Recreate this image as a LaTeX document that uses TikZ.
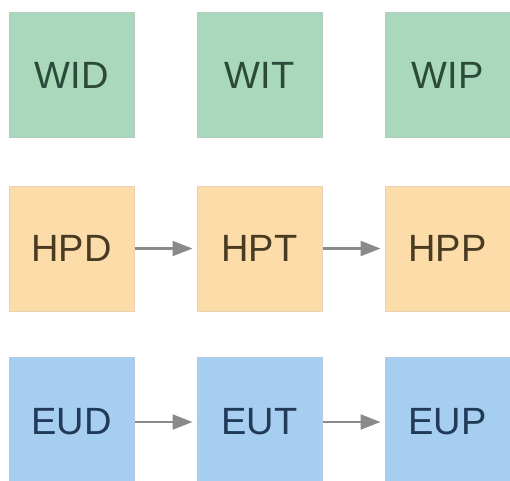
\documentclass[tikz,border=0pt]{standalone}
\usepackage{fontspec}
\setmainfont{Liberation Sans}
\usetikzlibrary{arrows.meta}
\definecolor{gfill}{HTML}{A9D8BD}
\definecolor{gline}{HTML}{B3CDBD}
\definecolor{gtext}{HTML}{2B4A39}
\definecolor{ofill}{HTML}{FCDCA9}
\definecolor{oline}{HTML}{E8D2B2}
\definecolor{otext}{HTML}{4A3A22}
\definecolor{bfill}{HTML}{A6CEF1}
\definecolor{bline}{HTML}{B5CCE0}
\definecolor{btext}{HTML}{203A58}
\definecolor{arr}{HTML}{8A8A8A}
\tikzset{
  box/.style={rectangle, minimum width=125pt, minimum height=125pt, inner sep=0pt, line width=1pt,
    font=\fontsize{38}{40}\selectfont},
  gbox/.style={box, fill=gfill, draw=gline, text=gtext},
  obox/.style={box, fill=ofill, draw=oline, text=otext},
  bbox/.style={box, fill=bfill, draw=bline, text=btext},
  flow/.style={draw=arr, line width=2.2pt, shorten >=4pt, -{Triangle[length=20pt,width=15pt]}}
}
\begin{document}
\begin{tikzpicture}[x=1pt,y=1pt]
\useasboundingbox (0,0) rectangle (510,-480);
\fill[white] (0,0) rectangle (510,-480);
\node[gbox] (wid) at (71.5,-75) {WID};
\node[gbox] (wit) at (259.5,-75) {WIT};
\node[gbox] (wip) at (447.5,-75) {WIP};
\node[obox] (hpd) at (71.5,-248.5) {HPD};
\node[obox] (hpt) at (259.5,-248.5) {HPT};
\node[obox] (hpp) at (447.5,-248.5) {HPP};
\node[bbox, minimum height=130pt] (eud) at (71.5,-422) {EUD};
\node[bbox, minimum height=130pt] (eut) at (259.5,-422) {EUT};
\node[bbox, minimum height=130pt] (eup) at (447.5,-422) {EUP};
\draw[flow] (hpd.east) -- (hpt.west);
\draw[flow] (hpt.east) -- (hpp.west);
\draw[flow] (eud.east) -- (eut.west);
\draw[flow] (eut.east) -- (eup.west);
\end{tikzpicture}
\end{document}
